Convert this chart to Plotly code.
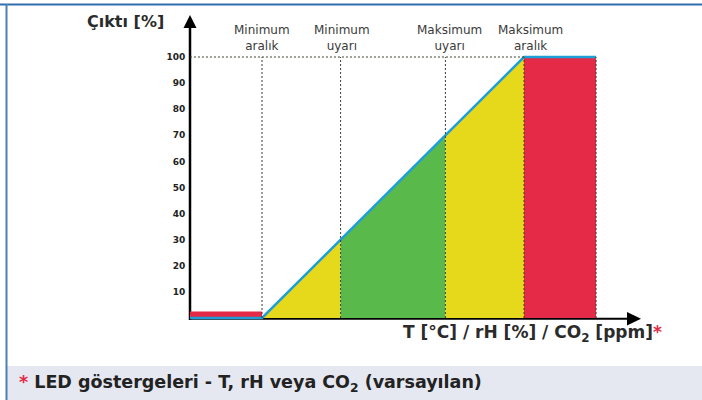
import numpy as np
import plotly.graph_objects as go

# ---------------- data ----------------
output_ticks = [10, 20, 30, 40, 50, 60, 70, 80, 90, 100]
zone_labels = ["Minimum<br>aralık", "Minimum<br>uyarı", "Maksimum<br>uyarı", "Maksimum<br>aralık"]
zone_edges = [0, 30, 70, 100]          # input positions of the four thresholds
axis_start = -27.5                     # input value at the axis origin
red_end = 127.5                        # end of the upper red (alarm) region
line_x = [-27.5, 0, 100, 127.5]        # output curve (input)
line_y = [0, 0, 100, 100]              # output curve (output %)
low_led_level = 2.5                    # height of the low red region
output_max = 100

# ---------------- style ----------------
RED = "#E42A46"
YELLOW = "#E6D81A"
GREEN = "#5AB94B"
BLUE = "#1E9FD7"
zone_fill = [YELLOW, GREEN, YELLOW]
label_dx = [0, 1, 4, 6]
FONT = "DejaVu Sans"

W, H = 702, 400
L, R, T, B = 150, 12, 8, 70
X_ZERO_PX, PX_PER_X = 262, 2.62
Y_ZERO_PX, PX_PER_Y = 318, 2.61
PW, PH = W - L - R, H - T - B

xr = [(L - X_ZERO_PX) / PX_PER_X, (W - R - X_ZERO_PX) / PX_PER_X]
yr = [(Y_ZERO_PX - (H - B)) / PX_PER_Y, (Y_ZERO_PX - T) / PX_PER_Y]


def fx(px):
    return (px - L) / PW


def fy(py):
    return (H - B - py) / PH


fig = go.Figure()

# low red LED region
fig.add_trace(go.Scatter(
    x=[axis_start, zone_edges[0], zone_edges[0], axis_start],
    y=[low_led_level, low_led_level, 0, 0],
    fill="toself", fillcolor=RED, mode="lines", line=dict(width=0, color=RED)))

# coloured zones under the ramp
for i in range(len(zone_edges) - 1):
    a, b = zone_edges[i], zone_edges[i + 1]
    ya, yb = np.interp([a, b], line_x, line_y)
    fig.add_trace(go.Scatter(
        x=[a, b, b, a], y=[ya, yb, 0, 0],
        fill="toself", fillcolor=zone_fill[i], mode="lines",
        line=dict(width=0, color=zone_fill[i])))

# upper red region
fig.add_trace(go.Scatter(
    x=[zone_edges[-1], red_end, red_end, zone_edges[-1]],
    y=[output_max, output_max, 0, 0],
    fill="toself", fillcolor=RED, mode="lines", line=dict(width=0, color=RED)))

# output curve
fig.add_trace(go.Scatter(x=line_x, y=line_y, mode="lines",
                         line=dict(color=BLUE, width=2.5)))

shapes = []
DOT = dict(color="#3d3d33", width=1, dash="2px,2px")
# horizontal guide at 100 %
shapes.append(dict(type="line", xref="x", yref="y", x0=axis_start, x1=zone_edges[-1],
                   y0=output_max, y1=output_max, line=DOT, layer="above"))
for e in zone_edges + [red_end]:
    shapes.append(dict(type="line", xref="x", yref="y", x0=e, x1=e,
                       y0=0, y1=output_max, line=DOT, layer="above"))

# axes with arrows (paper coordinates)
shapes.append(dict(type="line", xref="paper", yref="paper",
                   x0=fx(190), x1=fx(190), y0=fy(320), y1=fy(27),
                   line=dict(color="black", width=2.5), layer="below"))
shapes.append(dict(type="path", xref="paper", yref="paper",
                   path=f"M {fx(183.5)} {fy(28)} L {fx(196.5)} {fy(28)} L {fx(190)} {fy(15)} Z",
                   fillcolor="black", line=dict(width=0)))
shapes.append(dict(type="line", xref="paper", yref="paper",
                   x0=fx(189), x1=fx(628), y0=fy(318.8), y1=fy(318.8),
                   line=dict(color="black", width=2), layer="below"))
shapes.append(dict(type="path", xref="paper", yref="paper",
                   path=f"M {fx(627)} {fy(312)} L {fx(627)} {fy(325.5)} L {fx(641)} {fy(318.8)} Z",
                   fillcolor="black", line=dict(width=0)))

# frame: footnote band and blue borders
shapes.append(dict(type="rect", xref="paper", yref="paper",
                   x0=fx(7), x1=fx(W + 2), y0=fy(366), y1=fy(H + 2),
                   fillcolor="#E5E7F1", line=dict(width=0), layer="below"))
shapes.append(dict(type="line", xref="paper", yref="paper",
                   x0=fx(0), x1=fx(W), y0=fy(4.5), y1=fy(4.5),
                   line=dict(color="#2F6DB0", width=2)))
shapes.append(dict(type="line", xref="paper", yref="paper",
                   x0=fx(6.5), x1=fx(6.5), y0=fy(4), y1=fy(H + 2),
                   line=dict(color="#4A80B8", width=2)))

annotations = []
for lbl, e, dx in zip(zone_labels, zone_edges, label_dx):
    annotations.append(dict(x=e, y=output_max, xref="x", yref="y", text=lbl,
                            showarrow=False, xanchor="center", yanchor="bottom",
                            yshift=2, xshift=dx, align="center",
                            font=dict(family=FONT, size=12, color="#3a3a3a")))

annotations.append(dict(xref="paper", yref="paper", x=fx(125), y=fy(22),
                        text="<b>Çıktı [%]</b>", showarrow=False,
                        xanchor="center", yanchor="middle",
                        font=dict(family=FONT, size=16, color="#2b2b2b")))
annotations.append(dict(xref="paper", yref="paper", x=fx(532), y=fy(333),
                        text=f"<b>T [°C] / rH [%] / CO<sub>2</sub> [ppm]<span style='color:{RED}'>*</span></b>",
                        showarrow=False, xanchor="center", yanchor="middle",
                        font=dict(family=FONT, size=17, color="#2b2b2b")))
annotations.append(dict(xref="paper", yref="paper", x=fx(17), y=fy(383),
                        text=f"<b><span style='color:{RED}'>*</span> LED göstergeleri - T, rH veya CO<sub>2</sub> (varsayılan)</b>",
                        showarrow=False, xanchor="left", yanchor="middle",
                        font=dict(family=FONT, size=17.5, color="#222222")))

fig.update_layout(
    width=W, height=H, autosize=False,
    margin=dict(l=L, r=R, t=T, b=B, pad=0),
    paper_bgcolor="white", plot_bgcolor="white",
    showlegend=False, hovermode=False,
    shapes=shapes, annotations=annotations,
    xaxis=dict(range=xr, showgrid=False, zeroline=False, showline=False,
               showticklabels=False, ticks="", fixedrange=True),
    yaxis=dict(range=yr, anchor="free", position=fx(190),
               tickvals=output_ticks, ticktext=[str(v) for v in output_ticks],
               ticks="outside", ticklen=3, tickcolor="rgba(0,0,0,0)",
               showgrid=False, zeroline=False, showline=False,
               tickfont=dict(family=FONT, size=9, color="#222222", weight="bold"),
               fixedrange=True),
)

fig.write_html(
    "out.html",
    config={"displayModeBar": False, "staticPlot": True},
    post_script="document.body.style.margin='0';document.body.style.overflow='hidden';",
)
